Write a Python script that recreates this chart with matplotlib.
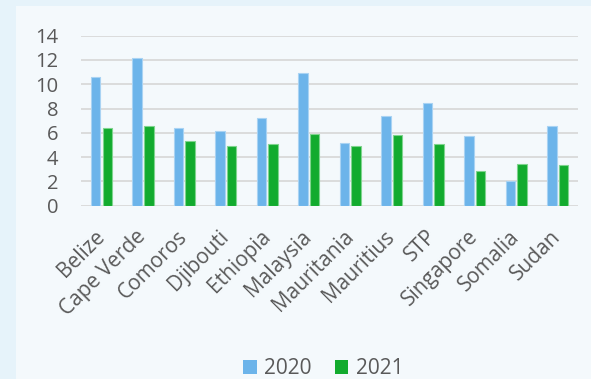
import matplotlib.pyplot as plt
import matplotlib.patches as mpatches
import numpy as np

countries = ['Belize', 'Cape Verde', 'Comoros', 'Djibouti', 'Ethiopia', 'Malaysia',
             'Mauritania', 'Mauritius', 'STP', 'Singapore', 'Somalia', 'Sudan']
vals_2020 = [10.6, 12.2, 6.4, 6.15, 7.2, 10.9, 5.2, 7.4, 8.45, 5.7, 2.05, 6.6]
vals_2021 = [6.4, 6.55, 5.3, 4.95, 5.05, 5.9, 4.95, 5.8, 5.1, 2.85, 3.45, 3.35]
yticks = [0, 2, 4, 6, 8, 10, 12, 14]

plt.rcParams['font.family'] = ['Open Sans', 'DejaVu Sans']
txt = '#595959'

fig = plt.figure(figsize=(5.91, 3.79), dpi=100)
fig.patch.set_facecolor('#e6f3fa')
fig.patches.append(mpatches.Rectangle((16 / 591, 0), 1, 1 - 6 / 379,
                                      transform=fig.transFigure,
                                      facecolor='#f4f9fc', edgecolor='none', zorder=-5))

ax = fig.add_axes([0.1366, 0.4573, 0.842, 0.4485])
ax.set_facecolor('none')
x = np.arange(len(countries))
w = 0.23
ax.bar(x - 0.14, vals_2020, w, color='#6cb4ea', edgecolor='#a9d3f3', linewidth=0.8,
       label='2020', zorder=3)
ax.bar(x + 0.14, vals_2021, w, color='#12ab2e', edgecolor='#7fd48e', linewidth=0.8,
       label='2021', zorder=3)

ax.set_xlim(-0.5, len(countries) - 0.5)
ax.set_ylim(0, 14)
ax.set_yticks(yticks)
ax.yaxis.grid(True, color='#d9d9d9', linewidth=1.3)
ax.set_axisbelow(True)
for s in ax.spines.values():
    s.set_visible(False)
ax.tick_params(length=0, colors=txt, labelsize=14.5)
ax.tick_params(axis='y', pad=16)
ax.tick_params(axis='x', pad=20)
ax.set_xticks(x)
ax.set_xticklabels(countries, rotation=45, ha='right', va='center',
                   rotation_mode='anchor', fontsize=15)

leg = fig.legend(loc='lower center', bbox_to_anchor=(0.547, -0.05), ncol=2, frameon=False,
                 fontsize=15, handlelength=0.65, handleheight=0.65, handletextpad=0.35,
                 columnspacing=1.1, labelcolor=txt)
for h in leg.legend_handles:
    h.set_edgecolor('none')

fig.savefig('out.png', dpi=100, facecolor=fig.get_facecolor())
